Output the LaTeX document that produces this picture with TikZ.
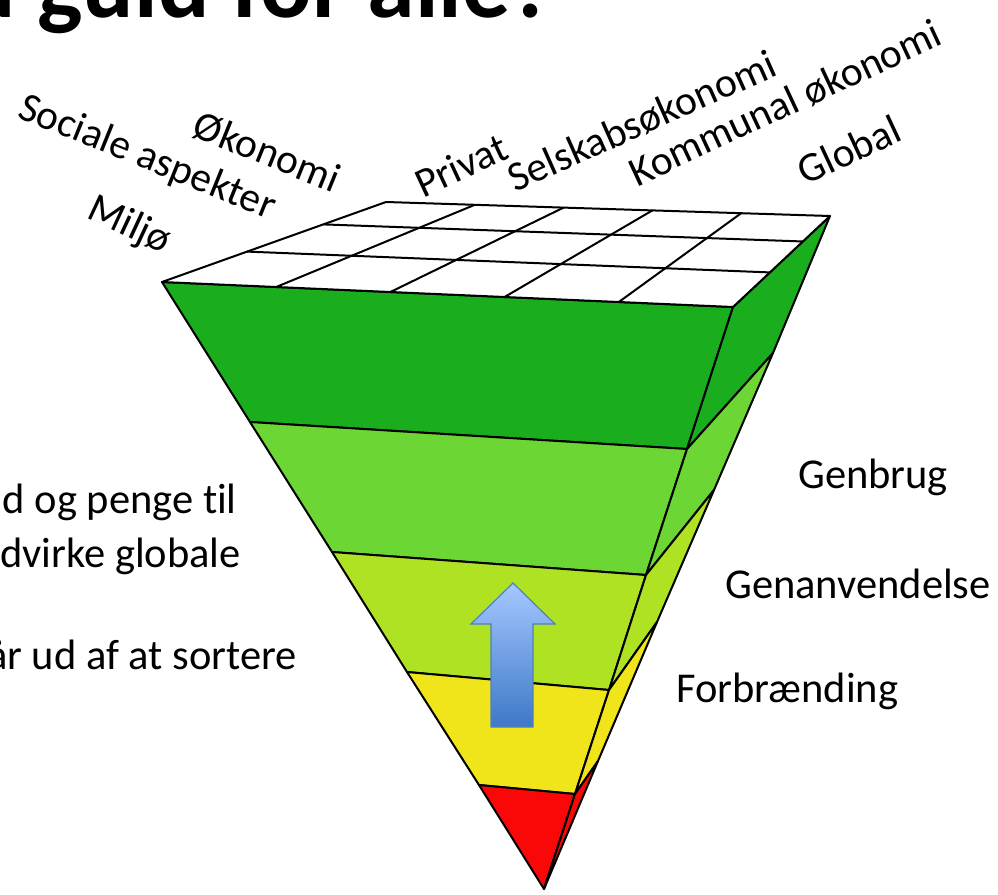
\documentclass[tikz,border=0pt]{standalone}
\usepackage{fontspec}
\setmainfont{Carlito}[Ligatures=NoCommon]
\usetikzlibrary{calc}
\definecolor{lag1}{RGB}{26,174,31}
\definecolor{lag2}{RGB}{108,214,52}
\definecolor{lag3}{RGB}{176,226,36}
\definecolor{lag4}{RGB}{240,228,26}
\definecolor{lag5}{RGB}{250,8,8}
\definecolor{pilkant}{RGB}{79,129,189}
\definecolor{pillys}{RGB}{165,200,255}
\definecolor{pilmoerk}{RGB}{62,120,200}

\begin{document}
\begin{tikzpicture}[
  x=1pt, y=-1pt,
  face/.style={draw=black, line width=2pt, line join=round},
  gitter/.style={draw=black, line width=2pt},
  lbl/.style={inner sep=0pt, font=\fontsize{42.5}{50}\selectfont},
  akse/.style={inner sep=0pt, font=\fontsize{41.5}{49}\selectfont}
]
\useasboundingbox (0,0) rectangle (998,894);
% Corners of the pyramid
\coordinate (L0) at (162,282);
\coordinate (L1) at (250,422);
\coordinate (L2) at (332,552);
\coordinate (L3) at (407,672);
\coordinate (L4) at (479,785);
\coordinate (R0) at (733,307);
\coordinate (R1) at (687,449);
\coordinate (R2) at (646,575);
\coordinate (R3) at (609,690);
\coordinate (R4) at (575,794);
\coordinate (B0) at (830,216);
\coordinate (B1) at (773,353);
\coordinate (B2) at (714,490);
\coordinate (B3) at (657,622);
\coordinate (B4) at (598,761);
\coordinate (BL) at (386,202);
\coordinate (A) at (544,889);
% Bands, front and side
\foreach \i/\j/\c in {0/1/lag1, 1/2/lag2, 2/3/lag3, 3/4/lag4} {
  \filldraw[face, fill=\c] (L\i) -- (R\i) -- (R\j) -- (L\j) -- cycle;
  \filldraw[face, fill=\c] (R\i) -- (B\i) -- (B\j) -- (R\j) -- cycle;
}
\filldraw[face, fill=lag5] (L4) -- (R4) -- (A) -- cycle;
\filldraw[face, fill=lag5] (R4) -- (B4) -- (A) -- cycle;
% Top face with grid
\filldraw[face, fill=white] (L0) -- (R0) -- (B0) -- (BL) -- cycle;
\foreach \k in {1,...,4}
  \draw[gitter] ($(L0)!\k/5!(R0)$) -- ($(BL)!\k/5!(B0)$);
\foreach \f in {0.38,0.72}
  \draw[gitter] ($(L0)!\f!(BL)$) -- ($(R0)!\f!(B0)$);
% Arrow
\shadedraw[draw=pilkant, line width=1.2pt, top color=pillys, bottom color=pilmoerk]
  (513,583) -- (555,624) -- (533,624) -- (533,727) -- (491,727) -- (491,624) -- (471,624) -- cycle;
% Title and texts
\node[inner sep=0pt, anchor=base west, font=\fontsize{96}{104}\selectfont\bfseries] (titel) at (-36,17) {d guld for alle?};
\node[lbl, anchor=base east] (tekst1) at (237,513) {d og penge til};
\node[lbl, anchor=base east] (tekst2) at (241,567) {dvirke globale};
\node[lbl, anchor=base east] (tekst3) at (297,669) {år ud af at sortere};
\node[lbl, anchor=base west] (genbrug) at (798,488) {Genbrug};
\node[lbl, anchor=base west] (genanv) at (725,598) {Genanvendelse};
\node[lbl, anchor=base west] (forbr) at (676,702) {Forbrænding};
% Axis labels
\node[akse, rotate=-22] (social) at (147,158) {Sociale aspekter};
\node[akse, rotate=-22] (oekonomi) at (267,152) {Økonomi};
\node[akse, rotate=-25] (miljoe) at (129,226) {Miljø};
\node[akse, rotate=25] (privat) at (461,165) {Privat};
\node[akse, rotate=24] (selskab) at (642,121) {Selskabsøkonomi};
\node[akse, rotate=25] (kommunal) at (785,103) {Kommunal økonomi};
\node[akse, rotate=25] (global) at (849,150) {Global};
\end{tikzpicture}
\end{document}
